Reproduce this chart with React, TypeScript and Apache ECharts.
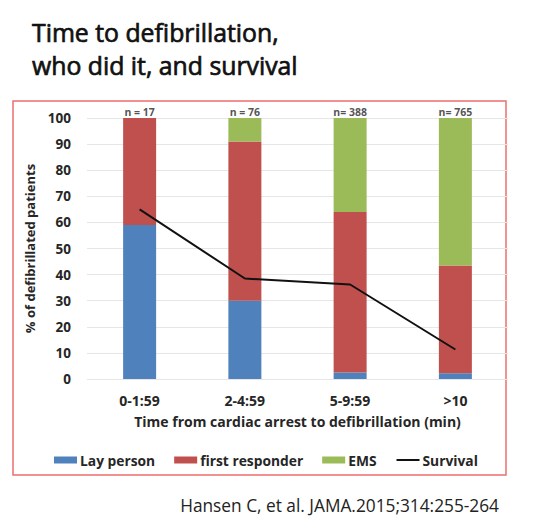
import React, { useEffect, useRef } from "react";
import * as echarts from "echarts";

const categories = ["0-1:59", "2-4:59", "5-9:59", ">10"];
const nLabels = ["n = 17", "n = 76", "n= 388", "n= 765"];
const layPerson = [59, 30, 2.5, 2.2];
const firstResponder = [41, 61, 61.5, 41.3];
const ems = [0, 9, 36, 56.5];
const survival = [65, 38.5, 36.2, 11.3];

const BLUE = "#4f81bd";
const RED = "#c0504d";
const GREEN = "#9bbb59";
const TXT = "#262626";
const FONT = "Open Sans";

const App: React.FC = () => {
  const chartRef = useRef<HTMLDivElement>(null);

  useEffect(() => {
    document.body.style.margin = "0";
    if (!chartRef.current) return;
    const chart = echarts.init(chartRef.current, undefined, { renderer: "svg" });

    const boldText = { fontFamily: FONT, fontWeight: "bold" as const, color: TXT };

    chart.setOption({
      animation: false,
      backgroundColor: "#fff",
      title: {
        text: "Time to defibrillation,\nwho did it, and survival",
        left: 32,
        top: 15,
        padding: 0,
        textStyle: {
          fontFamily: FONT,
          fontSize: 24.8,
          fontWeight: "normal",
          color: "#111",
          lineHeight: 33,
          textBorderColor: "#111",
          textBorderWidth: 0.7,
        },
      },
      graphic: [
        {
          type: "rect",
          shape: { x: 13, y: 101, width: 493, height: 374 },
          style: { fill: "none", stroke: "#ee6e6e", lineWidth: 1.5 },
        },
        {
          type: "text",
          x: 499,
          y: 505,
          style: {
            text: "Hansen C, et al. JAMA.2015;314:255-264",
            fontFamily: FONT,
            fontSize: 17.3,
            fill: "#222",
            align: "right",
            verticalAlign: "middle",
          },
        },
      ],
      legend: {
        left: 49,
        top: 448,
        itemWidth: 23,
        itemHeight: 7,
        itemGap: 19,
        textStyle: { ...boldText, fontSize: 13.8, padding: [0, 0, 0, -2] },
        data: [
          { name: "Lay person", icon: "rect" },
          { name: "first responder", icon: "rect" },
          { name: "EMS", icon: "rect" },
          { name: "Survival", itemStyle: { opacity: 0 } },
        ],
      },
      grid: { left: 87, right: 43, top: 118, bottom: 152 },
      xAxis: {
        type: "category",
        data: categories,
        name: "Time from cardiac arrest to defibrillation (min)",
        nameLocation: "middle",
        nameGap: 35,
        nameTextStyle: { ...boldText, fontSize: 14 },
        axisLine: { show: false },
        axisTick: { show: false },
        axisLabel: { ...boldText, fontSize: 14, margin: 14 },
      },
      yAxis: {
        type: "value",
        min: 0,
        max: 100,
        interval: 10,
        name: "% of defibrillated patients",
        nameLocation: "middle",
        nameGap: 47,
        nameRotate: 90,
        nameTextStyle: { ...boldText, fontSize: 13 },
        axisLabel: { ...boldText, fontSize: 13.5, margin: 16 },
        splitLine: { lineStyle: { color: "#e6e6e6", width: 1 } },
      },
      series: [
        {
          name: "Lay person",
          type: "bar",
          stack: "a",
          barWidth: 33,
          itemStyle: { color: BLUE },
          data: layPerson,
        },
        {
          name: "first responder",
          type: "bar",
          stack: "a",
          barWidth: 33,
          itemStyle: { color: RED },
          data: firstResponder,
        },
        {
          name: "EMS",
          type: "bar",
          stack: "a",
          barWidth: 33,
          itemStyle: { color: GREEN },
          data: ems,
        },
        {
          name: "Survival",
          type: "line",
          symbol: "none",
          itemStyle: { color: "#111" },
          lineStyle: { color: "#111", width: 2 },
          data: survival,
          z: 5,
        },
        {
          name: "n",
          type: "scatter",
          symbolSize: 0,
          data: categories.map(() => 100),
          label: {
            show: true,
            position: "top",
            distance: 1,
            ...boldText,
            fontSize: 10.5,
            formatter: (p: any) => nLabels[p.dataIndex],
          },
          silent: true,
        },
      ],
    });

    return () => {
      chart.dispose();
    };
  }, []);

  return <div ref={chartRef} style={{ width: 551, height: 531 }} />;
};

export default App;
